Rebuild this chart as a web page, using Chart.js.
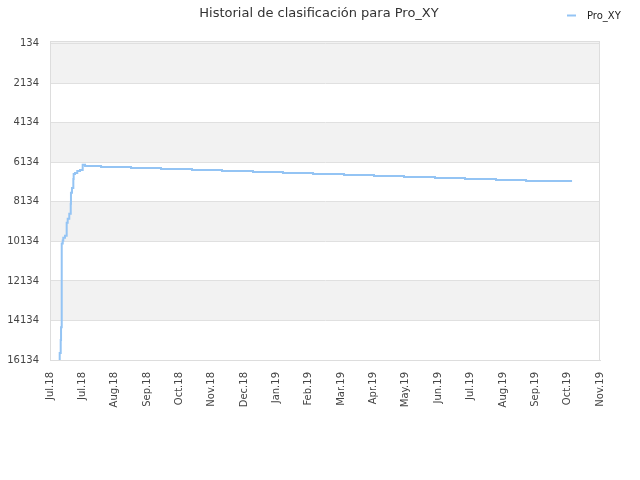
<!DOCTYPE html>
<html>
<head>
<meta charset="utf-8">
<script src="https://cdn.jsdelivr.net/npm/chart.js@4.4.0/dist/chart.umd.min.js"></script>
<style>
  html, body { margin: 0; padding: 0; background: #fff; }
  #wrap { width: 640px; height: 480px; }
</style>
</head>
<body>
<div id="wrap"><canvas id="c" width="640" height="480"></canvas></div>
<script>
// ---- data ----
const chartTitle = "Historial de clasificación para Pro_XY";
const seriesName = "Pro_XY";
// days since 1 Jul 2018
const rankDays = [8.6, 9.5, 9.8, 10.4, 11.3, 11.8, 13.3, 14.8, 15.7, 17.1, 18.4, 18.6, 19.5, 20.7, 21.0, 22.2, 24.2, 26.6, 29.0, 31.1, 45.3, 71.9, 98.5, 126.0, 152.6, 180.1, 206.7, 233.4, 260.9, 287.5, 314.1, 341.6, 368.2, 395.7, 422.4, 449.0, 463.2];
const rankValues = [16134, 15781, 15126, 14472, 10246, 10095, 9945, 9844, 9190, 8989, 8737, 8234, 7681, 7429, 6976, 6725, 6674, 6574, 6524, 6257, 6322, 6373, 6423, 6473, 6523, 6574, 6624, 6674, 6724, 6775, 6825, 6875, 6926, 6976, 7026, 7077, 7077];
const xTickLabels = ["Jul.18", "Jul.18", "Aug.18", "Sep.18", "Oct.18", "Nov.18", "Dec.18", "Jan.19", "Feb.19", "Mar.19", "Apr.19", "May.19", "Jun.19", "Jul.19", "Aug.19", "Sep.19", "Oct.19", "Nov.19"];
const xSpanDays = 488;
const yTicks = [134, 2134, 4134, 6134, 8134, 10134, 12134, 14134, 16134];
const yMin = 0, yMax = 16134;

const lineColor = "#94c4f4";
const fontFamily = "'DejaVu Sans', Verdana, sans-serif";

const points = rankDays.map((d, i) => ({ x: d, y: rankValues[i] }));

const decor = {
  id: "decor",
  beforeDraw(chart) {
    const { ctx, chartArea: a, scales } = chart;
    const y = scales.y;
    ctx.save();
    ctx.fillStyle = "#f2f2f2";
    for (let k = 1; k < yTicks.length; k += 2) {
      const top = k === 1 ? a.top : y.getPixelForValue(yTicks[k - 1]);
      const bot = y.getPixelForValue(yTicks[k]);
      ctx.fillRect(a.left, top, a.right - a.left, bot - top);
    }
    ctx.restore();
  },
  afterDraw(chart) {
    const { ctx, chartArea: a } = chart;
    ctx.save();
    ctx.strokeStyle = "#dddddd";
    ctx.lineWidth = 1;
    ctx.strokeRect(a.left + 0.5, a.top + 0.5, a.right - a.left - 1, a.bottom - a.top);
    // title
    ctx.fillStyle = "#333333";
    ctx.font = "13px " + fontFamily;
    ctx.textAlign = "center";
    ctx.textBaseline = "middle";
    ctx.fillText(chartTitle, 319, 14);
    // legend
    const ds = chart.data.datasets[0];
    ctx.strokeStyle = ds.borderColor;
    ctx.lineWidth = 2;
    ctx.beginPath();
    ctx.moveTo(567, 15.5);
    ctx.lineTo(576, 15.5);
    ctx.stroke();
    ctx.fillStyle = "#222222";
    ctx.font = "10px " + fontFamily;
    ctx.textAlign = "left";
    ctx.fillText(ds.label, 587, 16);
    ctx.restore();
  }
};

new Chart(document.getElementById("c"), {
  type: "line",
  data: {
    datasets: [{
      label: seriesName,
      data: points,
      borderColor: lineColor,
      backgroundColor: lineColor,
      borderWidth: 2,
      pointRadius: 0,
      stepped: "after",
      fill: false
    }]
  },
  options: {
    responsive: false,
    animation: false,
    devicePixelRatio: 1,
    layout: { padding: { top: 41, right: 40, left: 0, bottom: 0 } },
    plugins: {
      legend: { display: false },
      title: { display: false },
      tooltip: { enabled: false }
    },
    scales: {
      x: {
        type: "linear",
        min: 0,
        max: xSpanDays,
        afterBuildTicks(scale) {
          scale.ticks = xTickLabels.map((_, i) => ({ value: i * xSpanDays / (xTickLabels.length - 1) }));
        },
        afterFit(scale) { scale.height = 120; },
        grid: { display: false, drawTicks: false },
        border: { display: true, color: "#dddddd" },
        ticks: {
          autoSkip: false,
          minRotation: 90,
          maxRotation: 90,
          padding: 12,
          color: "#444444",
          font: { family: fontFamily, size: 10 },
          callback: (v, i) => xTickLabels[i]
        }
      },
      y: {
        type: "linear",
        reverse: true,
        min: yMin,
        max: yMax,
        afterBuildTicks(scale) {
          scale.ticks = yTicks.map(v => ({ value: v }));
        },
        afterFit(scale) { scale.width = 50; },
        grid: { color: "#e0e0e0", lineWidth: 1, drawTicks: false },
        border: { display: true, color: "#dddddd" },
        ticks: {
          padding: 11,
          color: "#444444",
          font: { family: fontFamily, size: 10 },
          callback: v => String(v)
        }
      }
    }
  },
  plugins: [decor]
});
</script>
</body>
</html>
